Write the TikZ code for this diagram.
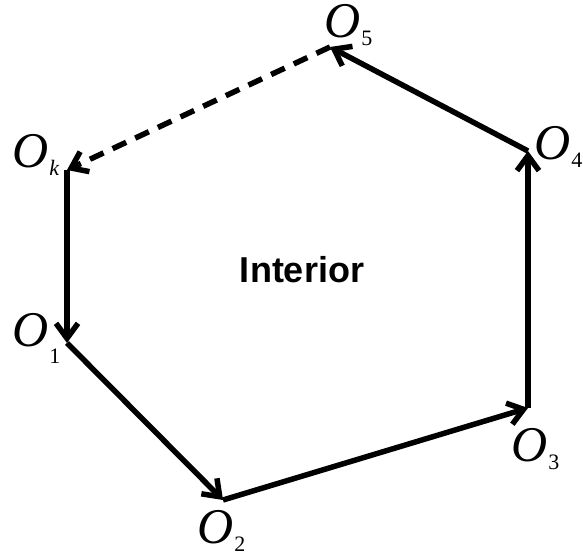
\documentclass[tikz,border=0pt]{standalone}
\usepackage{fontspec}
\setmainfont{Liberation Serif}
\newfontfamily\labsans{Liberation Sans}
\usetikzlibrary{arrows.meta}
\newcommand{\Olab}[2][-8pt]{{\fontsize{50}{50}\selectfont\textit{O}}\hspace{1pt}\raisebox{#1}{\fontsize{22}{22}\selectfont #2}}
\begin{document}
\begin{tikzpicture}[x=1pt,y=1pt,
  edge/.style={line width=5.5pt,-{Straight Barb[length=15pt,width=22pt]}},
  lab/.style={inner sep=0pt,anchor=base west}]
\useasboundingbox (0,0) rectangle (583,559);
\coordinate (Ok) at (67,389);
\coordinate (O1) at (67,216);
\coordinate (O2) at (223,59);
\coordinate (O3) at (528,151);
\coordinate (O4) at (528,408);
\coordinate (O5) at (330,512);
\draw[edge] (Ok) -- (O1);
\draw[edge] (O1) -- (O2);
\draw[edge] (O2) -- (O3);
\draw[edge] (O3) -- (O4);
\draw[edge] (O4) -- (O5);
\draw[edge,dash pattern=on 15pt off 10pt] (O5) -- (Ok);
\node[lab] (lk) at (12,391) {\Olab{\textit{k}}};
\node[lab] (l1) at (12,212) {\Olab[-17pt]{1}};
\node[lab] (l2) at (197,16) {\Olab{2}};
\node[lab] (l3) at (511,97) {\Olab{3}};
\node[lab] (l4) at (534,399) {\Olab{4}};
\node[lab] (l5) at (324,521) {\Olab{5}};
\node (int) at (302,289) {\labsans\bfseries\fontsize{36}{36}\selectfont Interior};
\end{tikzpicture}
\end{document}
